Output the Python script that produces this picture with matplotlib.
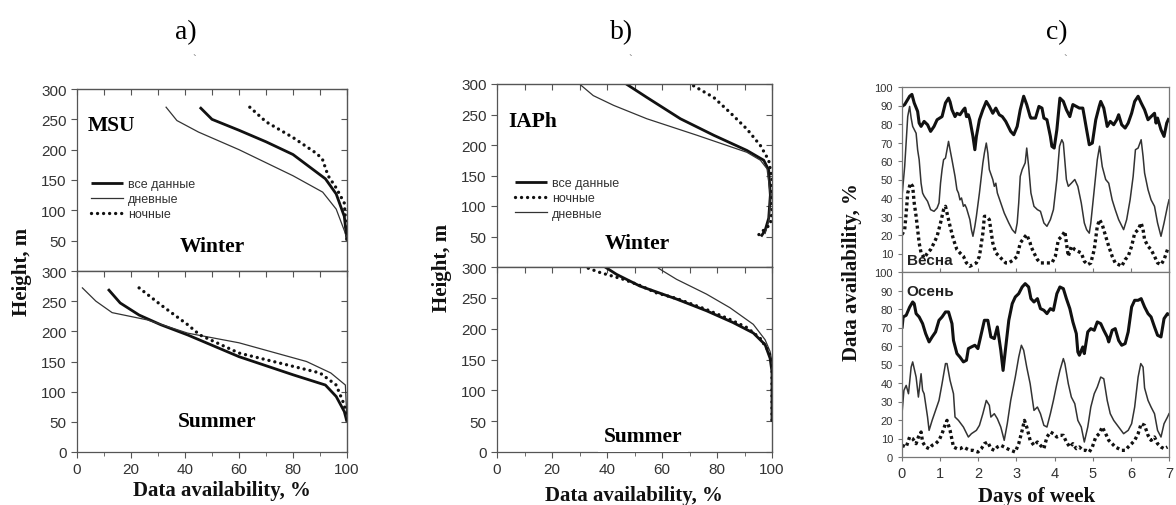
import numpy as np
import matplotlib
matplotlib.use("Agg")
import matplotlib.pyplot as plt
from matplotlib.lines import Line2D

SERIF = "Liberation Serif"
SANS = "Liberation Sans"
plt.rcParams["font.family"] = [SANS, "DejaVu Sans"]

# ---- a) MSU : availability (%) vs height (m)
msu_win_all_x = [45.5, 50, 60, 70, 80, 92, 96, 99, 100]
msu_win_all_h = [270, 250, 232, 213, 192, 152, 127, 90, 50]
msu_win_day_x = [33, 37, 45, 60, 80, 91, 96, 100]
msu_win_day_h = [270, 248, 229, 200, 157, 130, 102, 55]
msu_win_night_x = [64, 70, 80, 89, 91, 93, 96, 99, 100]
msu_win_night_h = [270, 246, 220, 193, 183, 157, 137, 112, 50]

msu_sum_all_x = [11.5, 16, 23, 31, 41, 60, 80, 92, 96, 99, 100]
msu_sum_all_h = [270, 247, 227, 211, 194, 158, 128, 111, 92, 67, 50]
msu_sum_day_x = [2, 7, 13, 26, 41, 60, 85, 94, 99.4, 100]
msu_sum_day_h = [272, 250, 231, 219, 197, 181, 150, 131, 111, 50]
msu_sum_night_x = [23, 31, 41, 45.5, 60, 80, 90, 96, 99, 100]
msu_sum_night_h = [272, 244, 211, 194, 164, 142, 131, 111, 78, 50]

# ---- b) IAPh
iaph_win_all_x = [47, 54.5, 66.7, 78.8, 90.9, 97, 98.8, 99.4, 98.8, 97.5, 96]
iaph_win_all_h = [300, 278, 243, 216, 191, 175, 159, 118, 80, 60, 50]
iaph_win_day_x = [30, 35, 42.4, 54.5, 72.7, 90.9, 95.8, 98.2, 99.4, 98.8, 97.5]
iaph_win_day_h = [300, 281, 265, 243, 216, 188, 175, 161, 118, 75, 55]
iaph_win_night_x = [71.5, 78.8, 84.8, 90.9, 95.8, 98.8, 100, 100, 99.4, 96.4, 94.5]
iaph_win_night_h = [297, 278, 253, 226, 199, 175, 145, 91, 70, 58, 50]

iaph_sum_all_x = [39.3, 43.5, 52, 65.3, 76.2, 85.8, 93.2, 97.5, 99.3, 100, 100]
iaph_sum_all_h = [300, 288, 269, 248, 229, 210, 193, 174, 152, 130, 50]
iaph_sum_night_x = [33.2, 37.5, 46, 52, 58, 65.3, 76.2, 84.7, 90.8, 95.6, 98.7, 100, 100]
iaph_sum_night_h = [298, 291, 280, 270, 258, 249, 231, 215, 202, 185, 164, 147, 50]
iaph_sum_day_x = [58.7, 65.3, 76.2, 84.7, 93.2, 97.5, 99.3, 100, 100]
iaph_sum_day_h = [298, 280, 256, 234, 207, 182, 163, 147, 50]

# ---- c) weekly course, spring (Весна) and autumn (Осень)
spr_all_d = [0.00, 0.07, 0.20, 0.26, 0.32, 0.41, 0.45, 0.50, 0.58, 0.67, 0.75, 0.84, 0.92, 1.05, 1.14,
             1.22, 1.26, 1.31, 1.39, 1.44, 1.52, 1.61, 1.65, 1.69, 1.74, 1.78, 1.86, 1.91, 1.95, 2.03,
             2.12, 2.21, 2.29, 2.38, 2.46, 2.55, 2.63, 2.72, 2.85, 2.93, 3.02, 3.10, 3.19, 3.27, 3.36,
             3.38, 3.50, 3.59, 3.67, 3.72, 3.80, 3.89, 3.93, 3.99, 4.06, 4.14, 4.23, 4.31, 4.40, 4.48,
             4.57, 4.65, 4.74, 4.78, 4.84, 4.91, 4.99, 5.08, 5.17, 5.21, 5.29, 5.38, 5.46, 5.55, 5.63,
             5.68, 5.76, 5.85, 5.93, 6.02, 6.10, 6.19, 6.27, 6.36, 6.45, 6.53, 6.62, 6.66, 6.70, 6.79,
             6.87, 6.94, 7.00]
spr_all = [89.5, 90.5, 95, 96, 91.4, 86.8, 80.5, 78.7, 81.4, 79.6, 76, 78.7, 82.3, 84, 91.4,
           94, 92, 87.7, 84, 85.8, 85, 87.7, 88.6, 84, 85, 82.3, 73.3, 66.1, 73.3, 82.3,
           87.7, 92.2, 89.5, 85.8, 88.6, 85, 84, 81.4, 76, 74.2, 78.7, 87.7, 95, 90.5, 84,
           83.2, 83.2, 89.5, 88.6, 83.2, 82.3, 73.3, 67.9, 67, 76.9, 94, 92.2, 87.7, 84, 90.5,
           89.5, 88.6, 88.6, 84, 76.9, 68.8, 69.7, 82.3, 89.5, 92.2, 88.6, 78.7, 81.4, 79.6, 82.3,
           85, 79.6, 77.8, 80.5, 85.8, 92.2, 95, 91.4, 87.7, 82.3, 84, 85.8, 80.5, 83.2, 76.9,
           73.3, 80.5, 83.2]

spr_day_d = [0.00, 0.07, 0.15, 0.20, 0.24, 0.28, 0.37, 0.41, 0.45, 0.50, 0.54, 0.58, 0.67, 0.75, 0.84,
             0.92, 0.97, 1.01, 1.05, 1.09, 1.14, 1.18, 1.22, 1.26, 1.31, 1.39, 1.44, 1.48, 1.52, 1.56,
             1.61, 1.65, 1.69, 1.78, 1.82, 1.86, 1.91, 1.95, 2.03, 2.12, 2.16, 2.21, 2.25, 2.29, 2.38,
             2.42, 2.46, 2.50, 2.59, 2.68, 2.80, 2.89, 2.97, 3.02, 3.06, 3.10, 3.15, 3.23, 3.27, 3.32,
             3.38, 3.46, 3.55, 3.63, 3.72, 3.80, 3.89, 3.97, 4.06, 4.13, 4.19, 4.23, 4.31, 4.36, 4.44,
             4.53, 4.61, 4.70, 4.78, 4.84, 4.91, 4.95, 5.04, 5.12, 5.18, 5.25, 5.34, 5.42, 5.51, 5.59,
             5.68, 5.81, 5.89, 5.98, 6.06, 6.12, 6.19, 6.27, 6.32, 6.36, 6.45, 6.53, 6.62, 6.70, 6.79,
             6.87, 6.96, 7.00]
spr_day = [40.9, 57, 84, 89.5, 83.2, 78.7, 75, 66, 60.7, 48, 42.7, 41, 38.2, 33.7, 32.8,
           34.6, 37.3, 48, 55.3, 60.7, 61.6, 66.1, 70.6, 66.1, 60.7, 51.7, 44.5, 42.7, 39, 40,
           35.5, 36.4, 34.6, 28.3, 22.9, 19.3, 24.7, 30.1, 42.7, 58.9, 64.3, 69.7, 64.3, 55.3, 50,
           46.3, 48, 42.7, 37.3, 31.9, 26.5, 22.9, 21, 26.5, 37.3, 51.7, 55.3, 59, 67, 57.1,
           42.7, 35.5, 33.7, 32.8, 26.5, 24.7, 28.3, 33.7, 50, 68, 71.5, 69.7, 50, 46.3, 48,
           50, 46.3, 37.3, 26.5, 22.9, 21, 26.5, 44.5, 60.7, 68, 57, 50, 48, 39, 33.7,
           28.3, 22.9, 28.3, 39, 51.7, 66.1, 67, 71.5, 62.5, 53.5, 44.5, 39, 35.5, 26.5, 19.3,
           26.5, 35.5, 39]

spr_night_d = [0.00, 0.07, 0.11, 0.15, 0.22, 0.28, 0.32, 0.37, 0.41, 0.45, 0.50, 0.58, 0.67, 0.75, 0.84,
               0.92, 1.01, 1.09, 1.14, 1.18, 1.26, 1.35, 1.44, 1.52, 1.61, 1.69, 1.78, 1.86, 1.95, 2.03,
               2.12, 2.16, 2.21, 2.29, 2.38, 2.46, 2.55, 2.63, 2.72, 2.80, 2.93, 3.02, 3.10, 3.23, 3.27,
               3.36, 3.38, 3.46, 3.55, 3.63, 3.80, 3.93, 4.02, 4.10, 4.19, 4.27, 4.31, 4.36, 4.44, 4.53,
               4.61, 4.70, 4.78, 4.87, 4.95, 5.04, 5.12, 5.18, 5.25, 5.34, 5.42, 5.51, 5.59, 5.68, 5.76,
               5.85, 5.93, 6.02, 6.10, 6.19, 6.27, 6.32, 6.36, 6.45, 6.53, 6.62, 6.70, 6.79, 6.87, 6.96,
               7.00]
spr_night = [20.2, 22.9, 31.9, 42.7, 48, 46.3, 37.3, 30.1, 22.9, 15.7, 10.3, 7.6, 10.3, 12.1, 15.7,
             19.3, 26.5, 33.7, 35.5, 31.9, 24.7, 17.5, 12.1, 10.3, 8.5, 4.9, 3.1, 4, 4.9, 8.5,
             21, 30.1, 30.1, 28.3, 15.7, 10.3, 8.5, 6.7, 4.9, 4.9, 6.7, 8.5, 15.7, 19.3, 20.2,
             15.7, 13.9, 10.3, 6.7, 4.9, 4.9, 4.9, 8.5, 17.5, 19.3, 22, 15.7, 8.5, 13.9, 12.1,
             11.2, 10.3, 5.8, 4, 4.9, 12.1, 24.7, 28.3, 25.6, 19.3, 13.9, 8.5, 4.9, 4, 3.1,
             6.7, 8.5, 13.9, 21, 22.9, 26.5, 22.9, 17.5, 13.9, 12.1, 8.5, 4.9, 4, 6.7, 12.1,
             13]

aut_all_d = [0.00, 0.03, 0.11, 0.20, 0.28, 0.32, 0.37, 0.45, 0.54, 0.62, 0.71, 0.79, 0.88, 0.97, 1.05,
             1.14, 1.22, 1.31, 1.35, 1.44, 1.52, 1.61, 1.69, 1.74, 1.82, 1.91, 1.99, 2.08, 2.16, 2.25,
             2.33, 2.42, 2.50, 2.59, 2.65, 2.72, 2.80, 2.89, 2.97, 3.06, 3.15, 3.23, 3.32,
             3.38, 3.46, 3.55, 3.63, 3.72, 3.80, 3.89, 3.97, 4.06, 4.14, 4.23, 4.31, 4.40, 4.48, 4.57,
             4.61, 4.65, 4.74, 4.78, 4.87, 4.95, 5.04, 5.12, 5.21, 5.29, 5.38, 5.42, 5.51, 5.59, 5.68,
             5.76, 5.85, 5.93, 6.02, 6.10, 6.19, 6.27, 6.36, 6.45, 6.53, 6.62, 6.70, 6.79, 6.87, 6.96,
             7.00]
aut_all = [69.4, 75.7, 76.6, 81, 83.8, 82.9, 77.5, 75.7, 72.1, 66.7, 62.2, 64.9, 67.6, 73.9, 75.7,
           78.4, 78.4, 72.1, 63, 55.9, 54, 51.4, 52.3, 58.6, 59.5, 60.4, 58.6, 66.7, 73.9, 73.9,
           64.9, 64, 70.3, 57.7, 46.8, 59.5, 73.9, 82.9, 86.5, 88.3, 91.9, 93.7, 91.9,
           85.6, 83.8, 85.6, 80.2, 79.3, 77.5, 80.2, 79.3, 88.3, 91.9, 91, 85.6, 80.2, 73, 66.7,
           56.8, 55, 59.5, 55.9, 67.6, 69.4, 68.5, 73, 72.1, 68.5, 64.9, 62.2, 68.5, 69.4, 63,
           60.4, 61.3, 67.6, 81.1, 84.7, 84.7, 85.6, 81.1, 77.5, 75.7, 70.3, 65.8, 64.9, 74.8, 77.5,
           76.6]

aut_day_d = [0.00, 0.05, 0.11, 0.17, 0.24, 0.28, 0.37, 0.43, 0.50, 0.54, 0.58, 0.67, 0.71, 0.79, 0.88,
             0.97, 1.05, 1.14, 1.18, 1.26, 1.35, 1.39, 1.48, 1.61, 1.74, 1.82, 1.95, 2.03, 2.12, 2.21,
             2.29, 2.33, 2.42, 2.50, 2.59, 2.68, 2.76, 2.85, 2.97, 3.06, 3.13, 3.19, 3.27, 3.36,
             3.46, 3.55, 3.63, 3.72, 3.80, 3.89, 3.97, 4.06, 4.14, 4.23, 4.27, 4.36, 4.44, 4.53, 4.61,
             4.70, 4.78, 4.87, 4.95, 5.04, 5.12, 5.21, 5.29, 5.38, 5.46, 5.55, 5.68, 5.81, 5.93, 6.02,
             6.10, 6.19, 6.26, 6.32, 6.36, 6.45, 6.53, 6.62, 6.70, 6.79, 6.87, 6.96, 7.00]
aut_day = [23.4, 36, 38.7, 34.2, 48.6, 51.4, 43.2, 32.4, 45, 36, 34.2, 21.6, 14.4, 19.8, 25.2,
           30.6, 39.6, 50.5, 50.5, 41.4, 34.2, 21.6, 19.8, 16.2, 10.8, 12.6, 14.4, 17.1, 23.4, 30.6,
           27.9, 21.6, 23.4, 20.7, 16.2, 9, 18, 30.6, 43.2, 54, 60.4, 57.7, 48.6, 39.6,
           25.2, 27, 23.4, 17.1, 16.2, 23.4, 30.6, 39.6, 46.8, 53.2, 50.5, 39.6, 32.4, 28.8, 19.8,
           16.2, 8.1, 16.2, 27, 34.2, 37.8, 43.2, 42.3, 30.6, 23.4, 19.8, 16.2, 12.6, 14.4, 18,
           27, 43.2, 50.5, 48.6, 37.3, 30.6, 27, 23.4, 14.4, 10.8, 18, 21.6, 23.4]

aut_night_d = [0.00, 0.11, 0.20, 0.28, 0.37, 0.43, 0.50, 0.54, 0.62, 0.71, 0.79, 0.88, 0.97, 1.05, 1.14,
               1.18, 1.26, 1.35, 1.44, 1.52, 1.61, 1.69, 1.78, 1.86, 1.99, 2.08, 2.16, 2.25, 2.33, 2.42,
               2.50, 2.59, 2.68, 2.76, 2.85, 2.97, 3.06, 3.15, 3.21, 3.27, 3.36,
               3.46, 3.55, 3.63, 3.72, 3.80, 3.89, 3.97, 4.06, 4.14, 4.23, 4.31, 4.40, 4.48, 4.57, 4.65,
               4.74, 4.82, 4.91, 4.99, 5.08, 5.17, 5.25, 5.34, 5.42, 5.51, 5.59, 5.68, 5.76, 5.85, 5.93,
               6.02, 6.10, 6.19, 6.27, 6.36, 6.45, 6.53, 6.62, 6.70, 6.79, 6.87, 6.96]
aut_night = [6.3, 5.4, 10.8, 9.9, 7.2, 10.8, 13.5, 8.1, 5.4, 4.5, 6.3, 7.2, 9, 12.6, 18,
             19.8, 14.4, 5.4, 4.5, 4.5, 5.4, 4.5, 3.6, 3.6, 2.7, 4.5, 7.2, 8.1, 4.5, 3.6,
             5.4, 6.3, 5.4, 4.5, 3.6, 2.7, 7.2, 14.4, 19.8, 16.2, 9,
             6.3, 8.1, 6.3, 4.5, 10.8, 13.5, 12.6, 10.8, 11.7, 11.7, 8.1, 5.4, 7.2, 4.5, 5.4,
             3.6, 3.6, 2.7, 5.4, 10.8, 12.6, 16.2, 12.6, 9, 7.2, 5.4, 4.5, 3.6, 3.6, 5.4,
             7.2, 9, 12.6, 18, 17.1, 11.7, 9, 10.8, 7.2, 5.4, 4.5, 5.4]

# line styles
THICK = dict(color="#111111", lw=2.0, solid_capstyle="butt")
THIN = dict(color="#333333", lw=0.9)
DOTS = dict(color="#111111", lw=2.4, linestyle=(0, (0.01, 1.8)), dash_capstyle="round")
SQDOTS = dict(color="#111111", lw=2.4, linestyle=(0, (0.9, 0.9)), dash_capstyle="butt")

W, H = 1176, 506


def box(x0, y0, x1, y1):
    # pixel box (top-left origin) -> figure fraction
    return [x0 / W, 1 - y1 / H, (x1 - x0) / W, (y1 - y0) / H]


fig = plt.figure(figsize=(11.76, 5.06), dpi=100)


def style_ax(ax, xt, yt, ylim, lab_size=11, xlab=True):
    ax.set_xlim(xt[0], xt[-1])
    ax.set_ylim(*ylim)
    for s in ax.spines.values():
        s.set_color("#555555")
        s.set_linewidth(0.9)
    ax.tick_params(direction="out", length=4, width=0.8, colors="#555555",
                   labelcolor="#333333", labelsize=lab_size)
    ax.set_yticks(yt)
    if not xlab:
        ax.tick_params(labelbottom=False, length=0, axis="x")


def profile_panel(top_box, bot_box, win, summ, name, order, leg_pos):
    ax1 = fig.add_axes(box(*top_box))
    ax2 = fig.add_axes(box(*bot_box))
    for ax, data in ((ax1, win), (ax2, summ)):
        for (x, h), st in zip(data, (THICK, THIN, DOTS)):
            ax.plot(x, h, **st)
    style_ax(ax1, [0, 20, 40, 60, 80, 100], [50, 100, 150, 200, 250, 300], (0, 300), xlab=False)
    style_ax(ax2, [0, 20, 40, 60, 80, 100], [0, 50, 100, 150, 200, 250, 300], (0, 300))
    ax2.set_xticks([0, 20, 40, 60, 80, 100])
    ax2.set_xticks(np.arange(0, 101, 10), minor=True)
    ax2.tick_params(which="minor", length=3, color="#555555")
    for ax in (ax1, ax2):
        ax.tick_params(axis="y", labelsize=11)
        sx = ax.secondary_xaxis("top")
        sx.set_xticks(np.arange(0, 101, 10))
        sx.set_xticklabels([])
        sx.tick_params(direction="in", length=4, colors="#555555")
        sy = ax.secondary_yaxis("right")
        sy.set_yticks(np.arange(0, 301, 50))
        sy.set_yticklabels([])
        sy.tick_params(direction="in", length=4, colors="#555555")
    ax1.text(0.04, 0.8, name, transform=ax1.transAxes, fontfamily=SERIF,
             fontweight="bold", fontsize=15.5, va="center")
    labels = {"all": "все данные", "day": "дневные", "night": "ночные"}
    styles = {"all": THICK, "day": THIN, "night": DOTS}
    handles = [Line2D([], [], **styles[k]) for k in order]
    ax1.legend(handles, [labels[k] for k in order], loc="upper left",
               bbox_to_anchor=leg_pos, frameon=False, fontsize=9,
               handlelength=2.6, handletextpad=0.4, labelspacing=0.25,
               borderpad=0, borderaxespad=0, labelcolor="#333333")
    return ax1, ax2


# a)
a1, a2 = profile_panel((77, 90, 347, 272), (77, 272, 347, 453),
                       [(msu_win_all_x, msu_win_all_h), (msu_win_day_x, msu_win_day_h),
                        (msu_win_night_x, msu_win_night_h)],
                       [(msu_sum_all_x, msu_sum_all_h), (msu_sum_day_x, msu_sum_day_h),
                        (msu_sum_night_x, msu_sum_night_h)],
                       "MSU", ["all", "day", "night"], (0.05, 0.51))
a1.text(0.5, 0.14, "Winter", transform=a1.transAxes, ha="center", va="center",
        fontfamily=SERIF, fontweight="bold", fontsize=15.5)
a2.text(0.52, 0.17, "Summer", transform=a2.transAxes, ha="center", va="center",
        fontfamily=SERIF, fontweight="bold", fontsize=15.5)

# b)
b1, b2 = profile_panel((497, 85, 772, 268), (497, 268, 772, 453),
                       [(iaph_win_all_x, iaph_win_all_h), (iaph_win_day_x, iaph_win_day_h),
                        (iaph_win_night_x, iaph_win_night_h)],
                       [(iaph_sum_all_x, iaph_sum_all_h), (iaph_sum_day_x, iaph_sum_day_h),
                        (iaph_sum_night_x, iaph_sum_night_h)],
                       "IAPh", ["all", "night", "day"], (0.065, 0.49))
b1.text(0.51, 0.13, "Winter", transform=b1.transAxes, ha="center", va="center",
        fontfamily=SERIF, fontweight="bold", fontsize=15.5)
fig.text(643 / W, 1 - 437 / H, "Summer", ha="center", va="center", fontfamily=SERIF,
         fontweight="bold", fontsize=15.5, zorder=20,
         bbox=dict(facecolor="white", edgecolor="none", pad=4))

# c)
c1 = fig.add_axes(box(902, 88, 1169, 273))
c2 = fig.add_axes(box(902, 273, 1169, 458))
for ax, series in ((c1, [(spr_all_d, spr_all), (spr_day_d, spr_day), (spr_night_d, spr_night)]),
                   (c2, [(aut_all_d, aut_all), (aut_day_d, aut_day), (aut_night_d, aut_night)])):
    for (d, v), st in zip(series, (dict(THICK, lw=2.2), dict(THIN, lw=1.1), SQDOTS)):
        ax.plot(d, v, **st)
    ax.set_xlim(0, 7)
    ax.set_ylim(0, 100)
    for s in ax.spines.values():
        s.set_color("#777777")
        s.set_linewidth(0.9)
    ax.tick_params(direction="out", length=3, width=0.8, colors="#777777",
                   labelcolor="#333333", labelsize=8)
c1.set_yticks(np.arange(10, 101, 10))
c2.set_yticks(np.arange(0, 101, 10))
c1.set_xticks(range(8))
c1.tick_params(axis="x", labelbottom=False, direction="in")
c2.set_xticks(range(8))
c2.tick_params(axis="x", labelsize=10.5)
c1.text(0.02, 0.065, "Весна", transform=c1.transAxes, fontweight="bold", fontsize=11,
        va="center", color="#222222")
c2.text(0.015, 0.9, "Осень", transform=c2.transAxes, fontweight="bold", fontsize=11,
        va="center", color="#222222")

# axis labels
lab = dict(fontfamily=SERIF, fontweight="bold", fontsize=15, color="#111111")
fig.text(22 / W, 1 - 272 / H, "Height, m", rotation=90, ha="center", va="center", **lab)
fig.text(442 / W, 1 - 268 / H, "Height, m", rotation=90, ha="center", va="center", **lab)
fig.text(222 / W, 1 - 491 / H, "Data availability, %", ha="center", va="center", **lab)
fig.text(634 / W, 1 - 496 / H, "Data availability, %", ha="center", va="center", **lab)
fig.text(852 / W, 1 - 272 / H, "Data availability, %", rotation=90, ha="center", va="center", **lab)
fig.text(1037 / W, 1 - 497 / H, "Days of week", ha="center", va="center", **lab)

# panel titles
for x, t in ((186, "a)"), (622, "b)"), (1057, "c)")):
    fig.text(x / W, 1 - 33 / H, t, ha="center", va="center", fontfamily=SERIF, fontsize=20)
    fig.text((x + 8) / W, 1 - 60 / H, "`", ha="center", va="center", fontfamily=SERIF,
             fontsize=8, color="#555555")

fig.savefig("out.png", dpi=100)
